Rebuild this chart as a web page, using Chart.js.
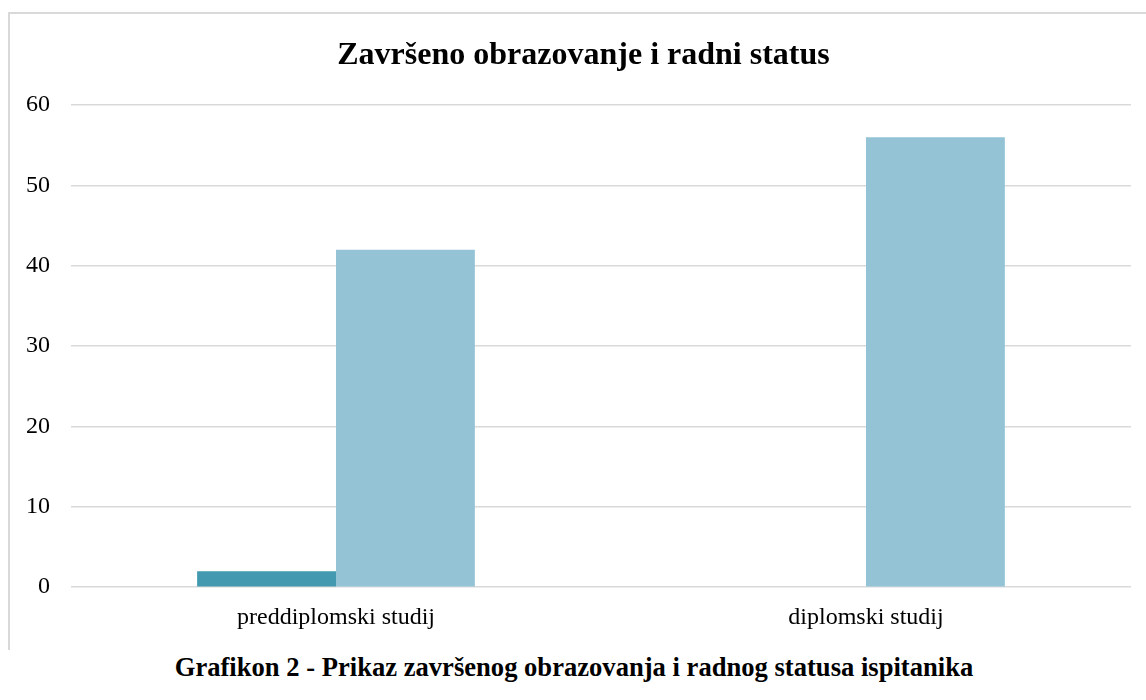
<!DOCTYPE html>
<html>
<head>
<meta charset="utf-8">
<script src="https://cdn.jsdelivr.net/npm/chart.js@4/dist/chart.umd.min.js"></script>
<style>
  html, body { margin: 0; padding: 0; background: #fff; width: 1146px; height: 700px; overflow: hidden; }
  #frame { position: absolute; left: 8px; top: 12px; width: 1200px; height: 636px;
           border-left: 2px solid #d9d9d9; border-top: 2px solid #d9d9d9; }
  #wrap { position: absolute; left: 0; top: 0; width: 1146px; height: 648px; }
  #title { position: absolute; left: 21px; width: 1125px; top: 35px; text-align: center;
           font: bold 32px "Liberation Serif", "Times New Roman", serif; color: #000; }
  #caption { position: absolute; left: 1px; width: 1146px; top: 652px; text-align: center;
             font: bold 26.6px "Liberation Serif", "Times New Roman", serif; color: #000; }
</style>
</head>
<body>
<div id="frame"></div>
<div id="wrap"><canvas id="chart"></canvas></div>
<div id="title">Završeno obrazovanje i radni status</div>
<div id="caption">Grafikon 2 - Prikaz završenog obrazovanja i radnog statusa ispitanika</div>
<script>
'use strict';

// Chart data
var categories = ['preddiplomski studij', 'diplomski studij'];
var seriesDark = [2, 0];
var seriesLight = [42, 56];
var yTicks = [0, 10, 20, 30, 40, 50, 60];

var serif = '"Liberation Serif", "Times New Roman", serif';

new Chart(document.getElementById('chart'), {
  type: 'bar',
  data: {
    labels: categories,
    datasets: [
      {
        label: 'Serija 1',
        backgroundColor: '#4299b0',
        data: seriesDark
      },
      {
        label: 'Serija 2',
        backgroundColor: '#93c3d5',
        data: seriesLight
      }
    ]
  },
  options: {
    responsive: true,
    maintainAspectRatio: false,
    animation: false,
    layout: {
      padding: { left: 5, right: 15, top: 105, bottom: 0 }
    },
    datasets: {
      bar: { categoryPercentage: 0.524, barPercentage: 1.0 }
    },
    plugins: {
      legend: { display: false },
      tooltip: { enabled: false },
      title: { display: false }
    },
    scales: {
      x: {
        grid: { display: false, drawTicks: false },
        border: { display: false },
        ticks: {
          color: '#000',
          font: { family: serif, size: 24 },
          padding: 16
        }
      },
      y: {
        min: yTicks[0],
        max: yTicks[yTicks.length - 1],
        border: { display: false },
        grid: { color: '#d9d9d9', lineWidth: 1.5, drawTicks: false },
        ticks: {
          stepSize: 10,
          color: '#000',
          font: { family: serif, size: 24 },
          padding: 21
        }
      }
    }
  }
});
</script>
</body>
</html>
